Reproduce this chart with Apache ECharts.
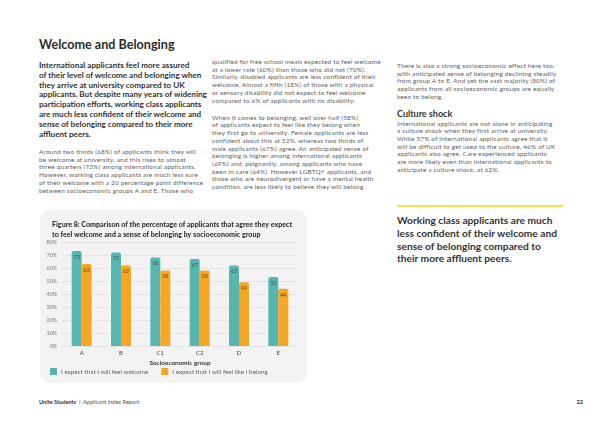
<!DOCTYPE html>
<html><head><meta charset="utf-8">
<script src="https://cdn.jsdelivr.net/npm/echarts@6/dist/echarts.min.js"></script>
<style>
html,body{margin:0;padding:0;background:#fff;}
#page{position:relative;width:600px;height:424px;overflow:hidden;font-family:Lato,"Open Sans",sans-serif;color:#555;}
.t{position:absolute;white-space:pre;margin:0;}
#title{left:39px;top:37px;font-size:12.6px;font-weight:700;color:#2b2b2b;}
#lead{left:39px;top:61px;font-size:8.1px;font-weight:700;color:#333;line-height:9.8px;}
.body{font-family:Lato,"Open Sans",sans-serif;font-size:6.4px;line-height:7.7px;letter-spacing:0.2px;color:#5e5e5e;}
#c1{left:39px;top:148px;}
#c2{left:212px;top:58px;}
#c3{left:397px;top:62px;}
.gap{display:block;height:9.5px;}
.h{font-family:Lato,sans-serif;font-size:9px;font-weight:700;color:#333;display:block;line-height:13px;margin-top:6px;letter-spacing:0;}
#rule{position:absolute;left:397px;top:205px;width:166px;height:2px;background:#f3e04e;}
#call{left:397px;top:214px;font-size:10.2px;font-weight:700;color:#333;line-height:12.8px;}
#box{position:absolute;left:40px;top:210px;width:267px;height:173px;background:#f3f3f3;border-radius:10px;}
#chart{position:absolute;left:40px;top:210px;width:267px;height:173px;}
#foot{left:39px;top:398px;font-size:5.6px;color:#555;}
#pg{right:17px;top:398px;font-size:5.6px;font-weight:700;color:#333;}
</style></head>
<body><div id="page">
<div id="title" class="t">Welcome and Belonging</div>
<div id="lead" class="t">International applicants feel more assured
of their level of welcome and belonging when
they arrive at university compared to UK
applicants. But despite many years of widening
participation efforts, working class applicants
are much less confident of their welcome and
sense of belonging compared to their more
affluent peers.</div>
<div id="c1" class="t body">Around two thirds (68%) of applicants think they will
be welcome at university, and this rises to almost
three quarters (73%) among international applicants.
However, working class applicants are much less sure
of their welcome with a 20 percentage point difference
between socioeconomic groups A and E. Those who</div>
<div id="c2" class="t body">qualified for free school meals expected to feel welcome
at a lower rate (60%) than those who did not (70%).
Similarly, disabled applicants are less confident of their
welcome. Almost a fifth (18%) of those with a physical
or sensory disability did not expect to feel welcome
compared to 6% of applicants with no disability.<span class="gap"></span>When it comes to belonging, well over half (58%)
of applicants expect to feel like they belong when
they first go to university. Female applicants are less
confident about this at 52%, whereas two thirds of
male applicants (67%) agree. An anticipated sense of
belonging is higher among international applicants
(69%) and, poignantly, among applicants who have
been in care (64%). However LGBTQ+ applicants, and
those who are neurodivergent or have a mental health
condition, are less likely to believe they will belong.</div>
<div id="c3" class="t body">There is also a strong socioeconomic effect here too,
with anticipated sense of belonging declining steadily
from group A to E. And yet the vast majority (80%) of
applicants from all socioeconomic groups are equally
keen to belong.<span class="h">Culture shock</span>International applicants are not alone in anticipating
a culture shock when they first arrive at university.
While 57% of international applicants agree that it
will be difficult to get used to the culture, 46% of UK
applicants also agree. Care experienced applicants
are more likely even than international applicants to
anticipate a culture shock, at 63%.</div>
<div id="rule"></div>
<div id="call" class="t">Working class applicants are much
less confident of their welcome and
sense of belonging compared to
their more affluent peers.</div>
<div id="box"></div>
<div id="chart"></div>
<div id="foot" class="t"><b style="color:#333">Unite Students</b>  |  Applicant Index Report</div>
<div id="pg" class="t">22</div>
</div>
<script>
const categories = ['A','B','C1','C2','D','E'];
const welcome = [73,72,68,67,62,53];
const belong = [63,62,58,58,49,44];
const seriesNames = ['I expect that I will feel welcome','I expect that I will feel like I belong'];
const yTicks = {min:0,max:80,interval:10};

const chart = echarts.init(document.getElementById('chart'), null, {renderer:'canvas'});
const F = 'Lato, "Open Sans", sans-serif';
chart.setOption({
  backgroundColor:'transparent',
  animation:false,
  title:{
    text:'Figure 8: Comparison of the percentage of applicants that agree they expect\nto feel welcome and a sense of belonging by socioeconomic group',
    left:7, top:5,
    textStyle:{fontFamily:F,fontSize:7.1,fontWeight:900,color:'#333',lineHeight:9.5}
  },
  legend:{
    left:5, bottom:3, itemWidth:7, itemHeight:7, itemGap:13,
    icon:'rect',
    textStyle:{fontFamily:F,fontSize:6.3,color:'#666',padding:[0,0,0,-1]},
    data:seriesNames
  },
  grid:{left:22, top:32, width:236, height:104, containLabel:false},
  xAxis:{
    type:'category', data:categories,
    name:'Socioeconomic group', nameLocation:'middle', nameGap:14, nameMoveOverlap:false,
    nameTextStyle:{fontFamily:F,fontSize:6.4,fontWeight:'bold',color:'#333'},
    axisLine:{show:false}, axisTick:{show:false},
    axisLabel:{fontFamily:F,fontSize:6,color:'#444',margin:4}
  },
  yAxis:{
    type:'value', min:yTicks.min, max:yTicks.max, interval:yTicks.interval,
    axisLabel:{formatter:'{value}%',fontFamily:F,fontSize:5.3,color:'#777',margin:5},
    splitLine:{lineStyle:{color:'#dcdcdc',width:0.6}},
    axisLine:{show:false}, axisTick:{show:false}
  },
  series:[
    {name:seriesNames[0], type:'bar', data:welcome, barWidth:10, barGap:'0%',
     itemStyle:{color:'#58b6b1',borderRadius:[2,2,0,0]},
     label:{show:true,position:'insideTop',distance:3,fontFamily:F,fontSize:5.5,color:'#2f5e5b'}},
    {name:seriesNames[1], type:'bar', data:belong, barWidth:10,
     itemStyle:{color:'#f5a623',borderRadius:[2,2,0,0]},
     label:{show:true,position:'insideTop',distance:3,fontFamily:F,fontSize:5.5,color:'#6d4a06'}}
  ]
});
</script>
</body></html>
